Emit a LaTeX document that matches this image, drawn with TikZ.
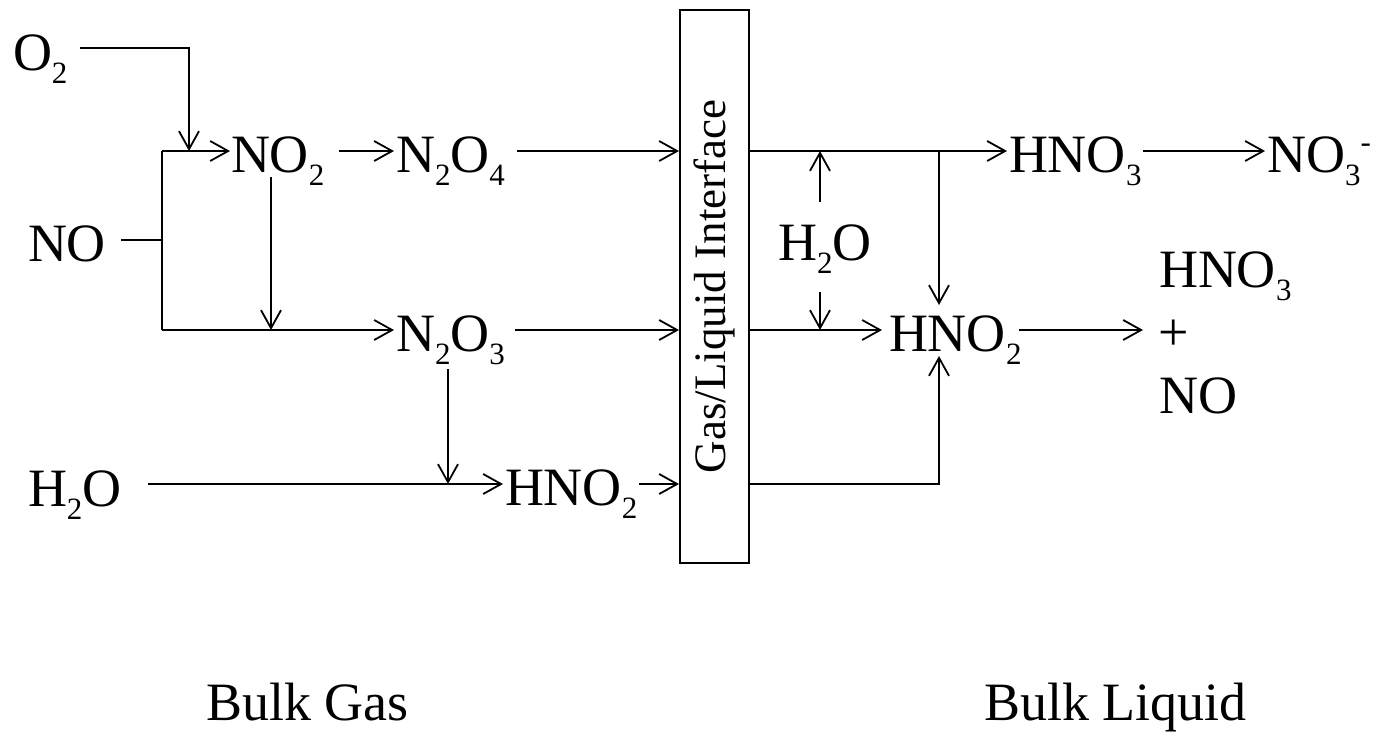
\documentclass[tikz,border=0pt]{standalone}
\usepackage{fontspec}
\setmainfont{Liberation Serif}
\usetikzlibrary{arrows.meta}
\newcommand\sbs[1]{\raisebox{-13pt}{\fontsize{31}{31}\selectfont #1}}
\newcommand\sps[1]{\raisebox{20pt}{\fontsize{31}{31}\selectfont #1}}
\tikzset{
  txt/.style={anchor=base west, inner sep=0pt, outer sep=0pt, font=\fontsize{54}{60}\selectfont},
  arr/.style={-{Straight Barb[length=18pt,width=20pt]}},
  ln/.style={line width=1.8pt},
}
\begin{document}
\begin{tikzpicture}[x=1pt,y=-1pt, every path/.style={line width=1.8pt}]
\useasboundingbox[fill=white] (0,0) rectangle (1382,737);
% text nodes
\node[txt] (o2) at (13,70) {O\sbs2};
\node[txt] (no) at (28,261) {NO};
\node[txt] (no2) at (231,172) {NO\sbs2};
\node[txt] (n2o4) at (396,172) {N\sbs2O\sbs4};
\node[txt] (n2o3) at (396,351) {N\sbs2O\sbs3};
\node[txt] (h2o) at (28,506) {H\sbs2O};
\node[txt] (hno2g) at (505,505) {HNO\sbs2};
\node[draw, line width=1.8pt, anchor=north west, inner sep=0pt, minimum width=69pt, minimum height=553pt] (box) at (679,9) {};
\node[rotate=90, inner sep=0pt, font=\fontsize{45}{50}\selectfont] (iface) at (box.center) {Gas/Liquid Interface};
\node[txt] (h2om) at (778,260) {H\sbs2O};
\node[txt] (hno3) at (1009,172) {HNO\sbs3};
\node[txt] (no3) at (1267,172) {NO\sbs3\sps{-}};
\node[txt] (hno2l) at (889,351) {HNO\sbs2};
\node[txt] (hno3b) at (1159,287) {HNO\sbs3};
\node[txt] (plus) at (1158,350) {+};
\node[txt] (nob) at (1159,413) {NO};
\node[txt] (bg) at (206,720) {Bulk Gas};
\node[txt] (bl) at (984,720) {Bulk Liquid};
% junctions and free ends
\coordinate (jA) at (162,151);
\coordinate (jB) at (162,330);
\coordinate (jNO) at (162,240);
\coordinate (jO2) at (189,151);
\coordinate (r3) at (0,484);
\coordinate (o2out) at (80,48);
\coordinate (noout) at (121,240);
\coordinate (no2out) at (339,151);
\coordinate (no2d) at (271,177);
\coordinate (n2o4out) at (517,151);
\coordinate (n2o3out) at (515,330);
\coordinate (n2o3d) at (448,369);
\coordinate (h2oout) at (148,484);
\coordinate (hno2gout) at (639,484);
\coordinate (hno3out) at (1143,151);
\coordinate (h2omu) at (820,202);
\coordinate (h2omd) at (820,292);
\coordinate (jC) at (939,151);
\coordinate (hno2dn) at (939,305);
\coordinate (hno2up) at (939,356);
\coordinate (hno2lout) at (1019,330);
% connectors (gas side)
\draw[arr] (o2out) -| (jO2);
\draw (noout) -- (jNO);
\draw (jA) -- (jB);
\draw[arr, shorten >=1pt] (jA) -- (no2.west |- jA);
\draw[arr, shorten >=2pt] (no2out) -- (n2o4.west |- jA);
\draw[arr] (no2d) -- (no2d |- jB);
\draw[arr, shorten >=2pt] (jB) -- (n2o3.west |- jB);
\draw[arr] (n2o4out) -- (box.west |- jA);
\draw[arr] (n2o3out) -- (box.west |- jB);
\draw[arr] (n2o3d) -- (n2o3d |- r3);
\draw[arr, shorten >=2pt] (h2oout) -- (hno2g.west |- r3);
\draw[arr] (hno2gout) -- (box.west |- r3);
% connectors (liquid side)
\draw[arr, shorten >=2pt] (box.east |- jA) -- (hno3.west |- jA);
\draw[arr, shorten >=2pt] (hno3out) -- (no3.west |- jA);
\draw[arr] (h2omu) -- (h2omu |- jA);
\draw[arr] (h2omd) -- (h2omd |- jB);
\draw[arr] (jC) -- (hno2dn);
\draw[arr, shorten >=7pt] (box.east |- jB) -- (hno2l.west |- jB);
\draw[arr, shorten >=15pt] (hno2lout) -- (plus.west |- jB);
\draw[arr] (box.east |- r3) -| (hno2up);
\end{tikzpicture}
\end{document}
